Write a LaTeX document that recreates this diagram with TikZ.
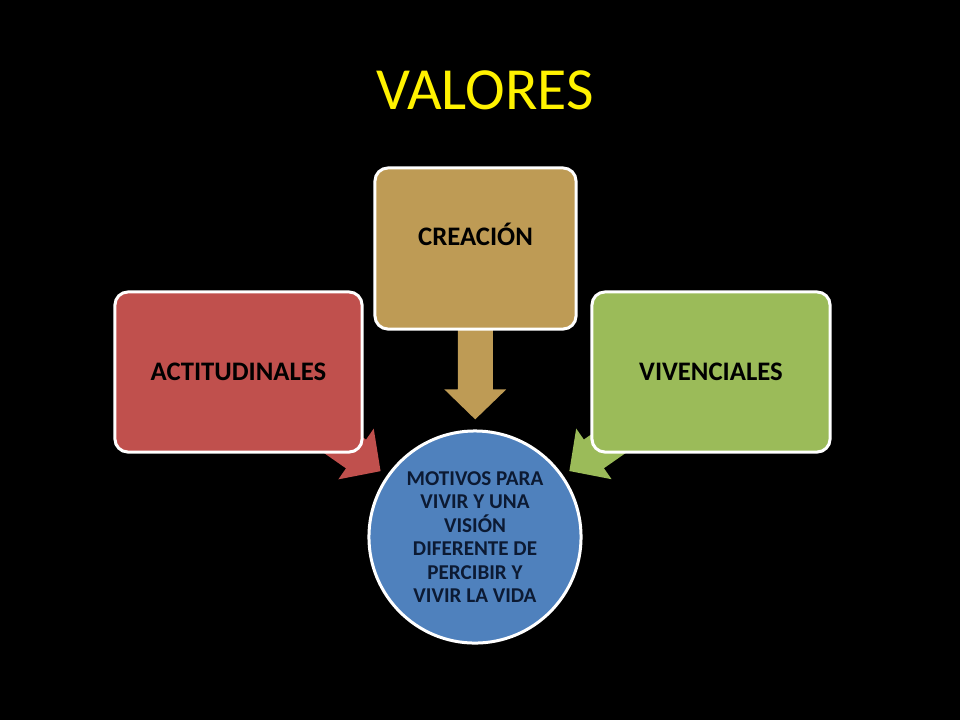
\documentclass[tikz,border=0pt]{standalone}
\usepackage{fontspec}
\setmainfont{Carlito}
\usetikzlibrary{arrows.meta,backgrounds}
\definecolor{cajarojo}{HTML}{C0504D}
\definecolor{cajaocre}{HTML}{BE9B55}
\definecolor{cajaverde}{HTML}{9BBB59}
\definecolor{circazul}{HTML}{4F81BD}
\definecolor{tintanavy}{HTML}{0C1A33}
\tikzset{
  caja/.style={draw=white, line width=0.03cm, rounded corners=0.13cm, text=black,
    inner sep=0pt, font=\bfseries\fontsize{7.6}{9}\selectfont},
  flecha/.style={line width=0.35cm, -{Triangle[length=0.3cm,width=0.6cm]}},
}

\begin{document}
\begin{tikzpicture}[x=0.01cm,y=-0.01cm]
    \useasboundingbox (0,0) rectangle (960,720);
    \node[text=yellow, font=\fontsize{17}{20}\selectfont] (titulo) at (485,90) {VALORES};
    \node[caja, fill=cajarojo, minimum width=2.47cm, minimum height=1.6cm] (actitud) at (238.5,372) {ACTITUDINALES};
    \node[caja, fill=cajaocre, minimum width=2.01cm, minimum height=1.61cm] (creacion) at (475.5,248.5)
      {\raisebox{0.035cm}[0pt][0pt]{CREACIÓN}};
    \node[caja, fill=cajaverde, minimum width=2.38cm, minimum height=1.6cm] (vivencia) at (711,372) {VIVENCIALES};
    \node[circle, draw=white, line width=0.03cm, fill=circazul, minimum size=2.12cm, inner sep=0pt,
      align=center, text=tintanavy, font=\bfseries\fontsize{6}{6.65}\selectfont] (motivos) at (475,537)
      {MOTIVOS PARA\\VIVIR Y UNA\\VISIÓN\\DIFERENTE DE\\PERCIBIR Y\\VIVIR LA VIDA};
    \begin{scope}[on background layer]
        \fill[black] (0,0) rectangle (960,720);
        \draw[flecha, cajarojo, shorten >=0.075cm] (actitud.center) -- (motivos);
        \draw[flecha, cajaocre, shorten >=0.1cm] (creacion.center) -- (motivos);
        \draw[flecha, cajaverde, shorten >=0.075cm] (vivencia.center) -- (motivos);
    \end{scope}
\end{tikzpicture}
\end{document}
